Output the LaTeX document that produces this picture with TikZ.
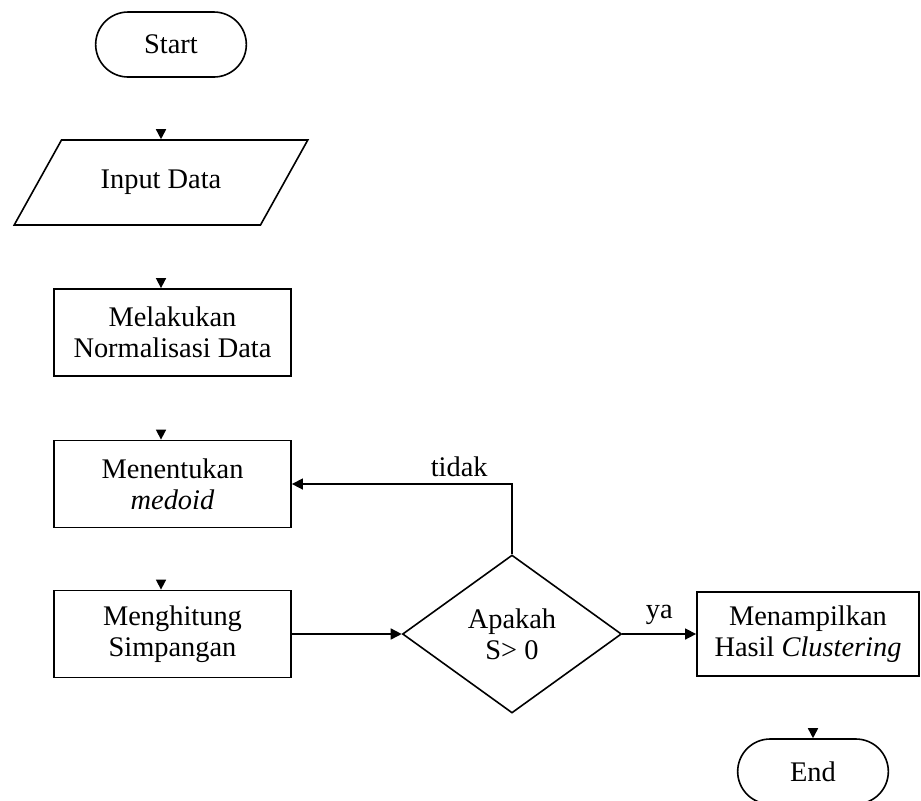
\documentclass[tikz,border=0pt]{standalone}
\usepackage{fontspec}
\setmainfont{Liberation Serif}
\usetikzlibrary{shapes.geometric, shapes.misc, arrows.meta}

\begin{document}
\begin{tikzpicture}[x=0.5pt, y=-0.5pt, font=\fontsize{14.2}{15.5}\selectfont,
    proses/.style={draw, line width=0.9pt, rectangle, minimum width=118.5pt, minimum height=43.5pt, align=center, inner sep=2pt},
    terminal/.style={draw, line width=0.8pt, rounded rectangle, minimum width=82pt, minimum height=32.5pt},
    io/.style={draw, line width=0.8pt, trapezium, trapezium left angle=50, trapezium right angle=130, trapezium stretches=true, minimum width=147pt, minimum height=42.5pt},
    keputusan/.style={draw, line width=0.8pt, diamond, aspect=1.386, minimum width=109.5pt, minimum height=79pt, inner sep=0pt, align=center},
    panah/.style={-{Triangle[length=5.5pt, width=5.5pt]}, line width=0.8pt},
    ujung/.style={draw=white, line width=0.8pt, shorten <=2pt, -{Triangle[length=5pt, width=5pt, color=black, fill=black]}}]
                \useasboundingbox (0,0) rectangle (921,800);
                \node[terminal] (start) at (171,44.5) {Start};
                \node[io] (input) at (161,182.5) {Input Data};
                \node[proses] (norm) at (172.5,332.5) {Melakukan\\Normalisasi Data};
                \node[proses] (medoid) at (172.5,484) {Menentukan\\\textit{medoid}};
                \node[proses] (hitung) at (172.5,634) {Menghitung\\Simpangan};
                \node[keputusan] (cek) at (512,634) {Apakah\\S> 0};
                \node[proses, minimum width=111pt, minimum height=42pt] (hasil) at (808,634) {Menampilkan\\Hasil \textit{Clustering}};
                \node[terminal] (end) at (813,771.5) {End};
                % only the heads of the downward arrows are visible
                \draw[ujung] (start.south -| input.north) -- (input.north);
                \draw[ujung] (input.south) -- (input.south |- norm.north);
                \draw[ujung] (input.south |- norm.south) -- (input.south |- medoid.north);
                \draw[ujung] (input.south |- medoid.south) -- (input.south |- hitung.north);
                \draw[ujung] (end.north |- hasil.south) -- (end.north);
                \draw[panah] (hitung) -- (cek);
                \draw[panah] (cek.north) |- node[above, pos=0.62] {tidak} (medoid.east);
                \draw[panah] (cek) -- node[above=1pt] {ya} (hasil);
              \end{tikzpicture}
\end{document}
